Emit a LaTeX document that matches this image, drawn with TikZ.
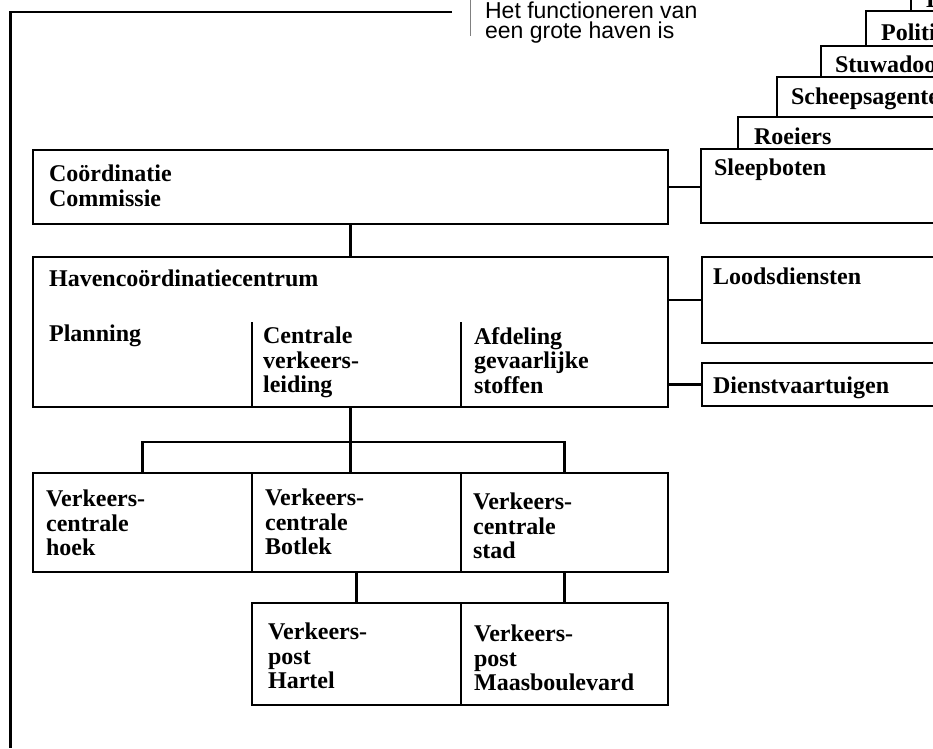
\documentclass[tikz,border=0pt]{standalone}
\usepackage{fontspec}
\setmainfont{Liberation Serif}
\newfontfamily\kopfont{Liberation Sans}
\usetikzlibrary{positioning}

\begin{document}
\begin{tikzpicture}[x=1pt,y=-1pt,line width=2.2pt]
  \tikzstyle{box}=[draw,anchor=north west,inner sep=0pt,outer sep=0pt]
  \tikzstyle{txt}=[anchor=north west,inner sep=0pt,align=left,font=\bfseries\fontsize{24}{24.5}\selectfont]
  \tikzstyle{every edge}=[draw,line width=2.2pt]

  \useasboundingbox (0,0) rectangle (933,748);
  \clip (0,0) rectangle (933,748);

  % kader en kop
  \draw (452,12) -- (10.5,12) -- (10.5,748);
  \draw[gray,line width=0.8pt] (470,0) -- (470,36);
  \node[anchor=north west,inner sep=0pt,align=left,font=\kopfont\fontsize{23}{20}\selectfont] (KOP) at (484,0.5) {Het functioneren van\\een grote haven is};

  % linker kolom
  \node[box,minimum width=635pt,minimum height=74pt] (CC) at (33,150) {};
  \node[box,minimum width=635pt,minimum height=150pt,below=33pt of CC] (HCC) {};
  \node[box,minimum width=219pt,minimum height=99pt] (VCH) at (33,473) {};
  \node[box,minimum width=209pt,minimum height=99pt,right=0pt of VCH] (VCB) {};
  \node[box,minimum width=207pt,minimum height=99pt,right=0pt of VCB] (VCS) {};
  \node[box,minimum width=209pt,minimum height=102pt] (VPH) at (252,603) {};
  \node[box,minimum width=207pt,minimum height=102pt,right=0pt of VPH] (VPM) {};

  % rechter kolom
  \node[box,minimum width=300pt,minimum height=35pt] (DOU) at (911,-24) {};
  \node[box,minimum width=300pt,minimum height=35pt] (POL) at (866,11) {};
  \node[box,minimum width=300pt,minimum height=31pt] (STU) at (821,46) {};
  \node[box,minimum width=300pt,minimum height=40pt] (SCH) at (777,77) {};
  \node[box,minimum width=300pt,minimum height=32pt] (ROE) at (738,117) {};
  \node[box,minimum width=300pt,minimum height=74pt] (SLP) at (701,149) {};
  \node[box,minimum width=300pt,minimum height=86pt] (LDS) at (702,257) {};
  \node[box,minimum width=300pt,minimum height=43pt] (DVT) at (702,363) {};

  % teksten
  \node[txt,below right=14pt and 15pt of CC.north west] (CCt) {Coördinatie\\Commissie};
  \node[txt,below right=12pt and 15pt of HCC.north west] (HCCt) {Havencoördinatiecentrum};
  \node[txt,below right=67pt and 15pt of HCC.north west] (PLt) {Planning};
  \node[txt,below right=69pt and 229pt of HCC.north west] (CVt) {Centrale\\verkeers-\\leiding};
  \node[txt,below right=69pt and 440pt of HCC.north west] (AGt) {Afdeling\\gevaarlijke\\stoffen};
  \node[txt,below right=16pt and 12pt of VCH.north west] (VCHt) {Verkeers-\\centrale\\hoek};
  \node[txt,below right=15pt and 12pt of VCB.north west] (VCBt) {Verkeers-\\centrale\\Botlek};
  \node[txt,below right=19pt and 11pt of VCS.north west] (VCSt) {Verkeers-\\centrale\\stad};
  \node[txt,below right=19pt and 15pt of VPH.north west] (VPHt) {Verkeers-\\post\\Hartel};
  \node[txt,below right=21pt and 12pt of VPM.north west] (VPMt) {Verkeers-\\post\\Maasboulevard};
  \node[txt,below right=15pt and 14pt of DOU.north west] (DOUt) {Douane};
  \node[txt,below right=12pt and 14pt of POL.north west] (POLt) {Politie};
  \node[txt,below right=9pt and 13pt of STU.north west] (STUt) {Stuwadoors};
  \node[txt,below right=10pt and 13pt of SCH.north west] (SCHt) {Scheepsagenten};
  \node[txt,below right=10pt and 15pt of ROE.north west] (ROEt) {Roeiers};
  \node[txt,below right=9pt and 12pt of SLP.north west] (SLPt) {Sleepboten};
  \node[txt,below right=10pt and 10pt of LDS.north west] (LDSt) {Loodsdiensten};
  \node[txt,below right=13pt and 10pt of DVT.north west] (DVTt) {Dienstvaartuigen};

  % scheidingen in het havencoordinatiecentrum
  \draw (VCB.north west |- HCC.south) -- ++(0,-85);
  \draw (VCS.north west |- HCC.south) -- ++(0,-85);

  % verbindingen
  \path (CC.south) edge (HCC.north)
  (CC.east) edge (CC.east -| SLP.west)
  (HCC.east |- LDS.west) edge (LDS.west)
  (HCC.east |- DVT.west) edge (DVT.west)
  (HCC.south) edge (HCC.south |- VCB.north)
  (VCB.south) edge (VPH.north)
  (VCS.south) edge (VPM.north)
  ;
  \draw (VCH.north) -- ++(0,-31) -| (VCS.north);
\end{tikzpicture}
\end{document}
